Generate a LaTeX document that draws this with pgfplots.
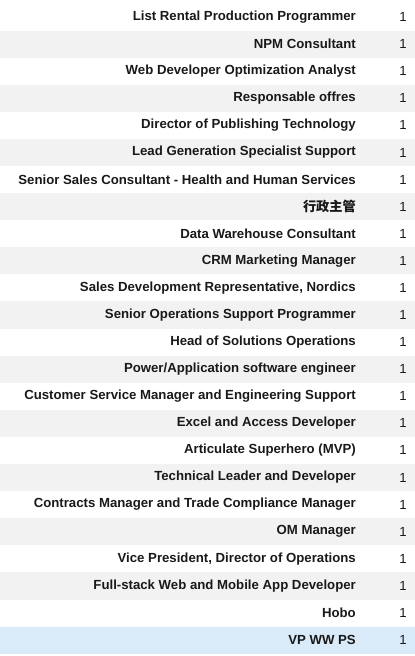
\documentclass[border=0pt]{standalone}
\usepackage{pgfplots}
\pgfplotsset{compat=1.18}
\usepackage{fontspec}
\setmainfont{Liberation Sans}
\newfontfamily\cjk{Noto Sans CJK SC}
\definecolor{stripe}{HTML}{F2F2F2}
\definecolor{sel}{HTML}{D9EAF8}
\begin{document}
\begin{tikzpicture}
\begin{axis}[scale only axis, width=415pt, height=656pt, xmin=0, xmax=415, ymin=0, ymax=656, hide axis, clip=false]
\foreach \t/\b in {625.4/598.3,571.2/544.1,517.0/489.9,462.9/435.8,408.7/381.6,354.5/327.4,300.3/273.2,246.2/219.1,192.0/164.9,137.8/110.7,83.6/56.5}{
\edef\tmp{\noexpand\addplot[fill=stripe, draw=none] coordinates {(0,\t) (415,\t) (415,\b) (0,\b)} --cycle;}\tmp
}
\addplot[fill=sel, draw=none] coordinates {(0,29.5) (415,29.5) (415,2.3) (0,2.3)} --cycle;
\addplot[draw=none, mark=none, nodes near coords, point meta=explicit symbolic,
  every node near coord/.append style={anchor=east, font=\fontsize{13.2}{15}\selectfont\bfseries, text=black!90, inner sep=0pt}]
coordinates {
(356,639)[{List Rental Production Programmer}]
(356,611.9)[{NPM Consultant}]
(356,584.8)[{Web Developer Optimization Analyst}]
(356,557.7)[{Responsable offres}]
(356,530.6)[{Director of Publishing Technology}]
(356,503.5)[{Lead Generation Specialist Support}]
(356,476.5)[{Senior Sales Consultant - Health and Human Services}]
(356,449.4)[{{\cjk\bfseries 行政主管}}]
(356,422.3)[{Data Warehouse Consultant}]
(356,395.2)[{CRM Marketing Manager}]
(356,368.1)[{Sales Development Representative, Nordics}]
(356,341.0)[{Senior Operations Support Programmer}]
(356,313.9)[{Head of Solutions Operations}]
(356,286.8)[{Power/Application software engineer}]
(356,259.7)[{Customer Service Manager and Engineering Support}]
(356,232.7)[{Excel and Access Developer}]
(356,205.6)[{Articulate Superhero (MVP)}]
(356,178.5)[{Technical Leader and Developer}]
(356,151.4)[{Contracts Manager and Trade Compliance Manager}]
(356,124.3)[{OM Manager}]
(356,97.2)[{Vice President, Director of Operations}]
(356,70.1)[{Full-stack Web and Mobile App Developer}]
(356,43.0)[{Hobo}]
(356,15.9)[{VP WW PS}]
};
\addplot[draw=none, mark=none, nodes near coords, point meta=explicit symbolic,
  every node near coord/.append style={anchor=east, font=\fontsize{13.2}{15}\selectfont, text=black!90, inner sep=0pt}]
coordinates {
(407,639)[1] (407,611.9)[1] (407,584.8)[1] (407,557.7)[1] (407,530.6)[1] (407,503.5)[1]
(407,476.5)[1] (407,449.4)[1] (407,422.3)[1] (407,395.2)[1] (407,368.1)[1] (407,341.0)[1]
(407,313.9)[1] (407,286.8)[1] (407,259.7)[1] (407,232.7)[1] (407,205.6)[1] (407,178.5)[1]
(407,151.4)[1] (407,124.3)[1] (407,97.2)[1] (407,70.1)[1] (407,43.0)[1] (407,15.9)[1]
};
\end{axis}
\pgfresetboundingbox
\path (current axis.south west) rectangle (current axis.north east);
\end{tikzpicture}
\end{document}
